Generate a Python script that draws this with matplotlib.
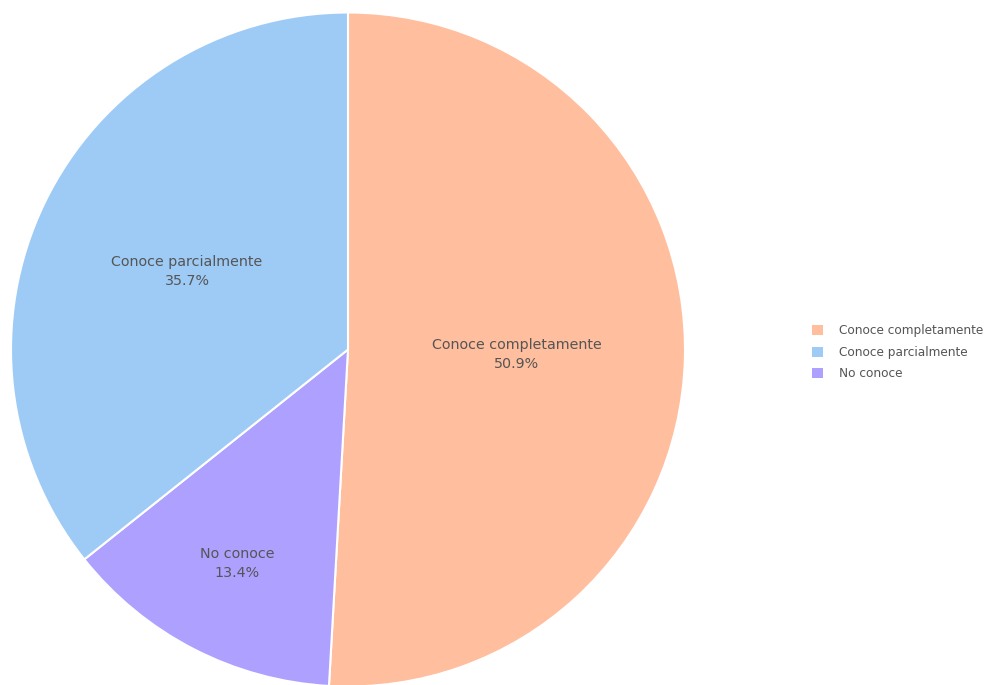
import numpy as np
import matplotlib
matplotlib.use("Agg")
import matplotlib.pyplot as plt
from matplotlib.patches import Patch

# Data (plot order clockwise from 12 o'clock)
labels = ["Conoce completamente", "No conoce", "Conoce parcialmente"]
values = [50.9, 13.4, 35.7]
colors = ["#FFBE9D", "#AEA0FF", "#9ECBF6"]
legend_order = ["Conoce completamente", "Conoce parcialmente", "No conoce"]

text_radius = [0.50, 0.715, 0.53]

fig = plt.figure(figsize=(9.84, 6.85), dpi=100)
W, H = 984, 685
cx, cy, R = 348, 349.5, 337
ax = fig.add_axes([(cx - R) / W, (H - cy - R) / H, 2 * R / W, 2 * R / H])
wedges, _ = ax.pie(values, colors=colors, startangle=90, counterclock=False,
                   radius=1, wedgeprops=dict(edgecolor="white", linewidth=1.5))
ax.set_xlim(-1, 1)
ax.set_ylim(-1, 1)
ax.set_aspect("equal")
ax.axis("off")

for w, lab, v, r in zip(wedges, labels, values, text_radius):
    th = np.deg2rad((w.theta1 + w.theta2) / 2)
    ax.text(r * np.cos(th), r * np.sin(th), f"{lab}\n{v:.1f}%",
            ha="center", va="center", fontsize=10.3, color="#555555",
            linespacing=1.45)

handles = [Patch(facecolor=colors[labels.index(l)], edgecolor="none", label=l)
           for l in legend_order]
leg = fig.legend(handles=handles, loc="upper left",
                 bbox_to_anchor=(812 / W, 1 - 324 / H), frameon=False,
                 fontsize=8.7, labelcolor="#555555", handlelength=0.9,
                 handleheight=0.9, handletextpad=1.3, labelspacing=0.72,
                 borderaxespad=0, borderpad=0)

fig.savefig("out.png", dpi=100)
